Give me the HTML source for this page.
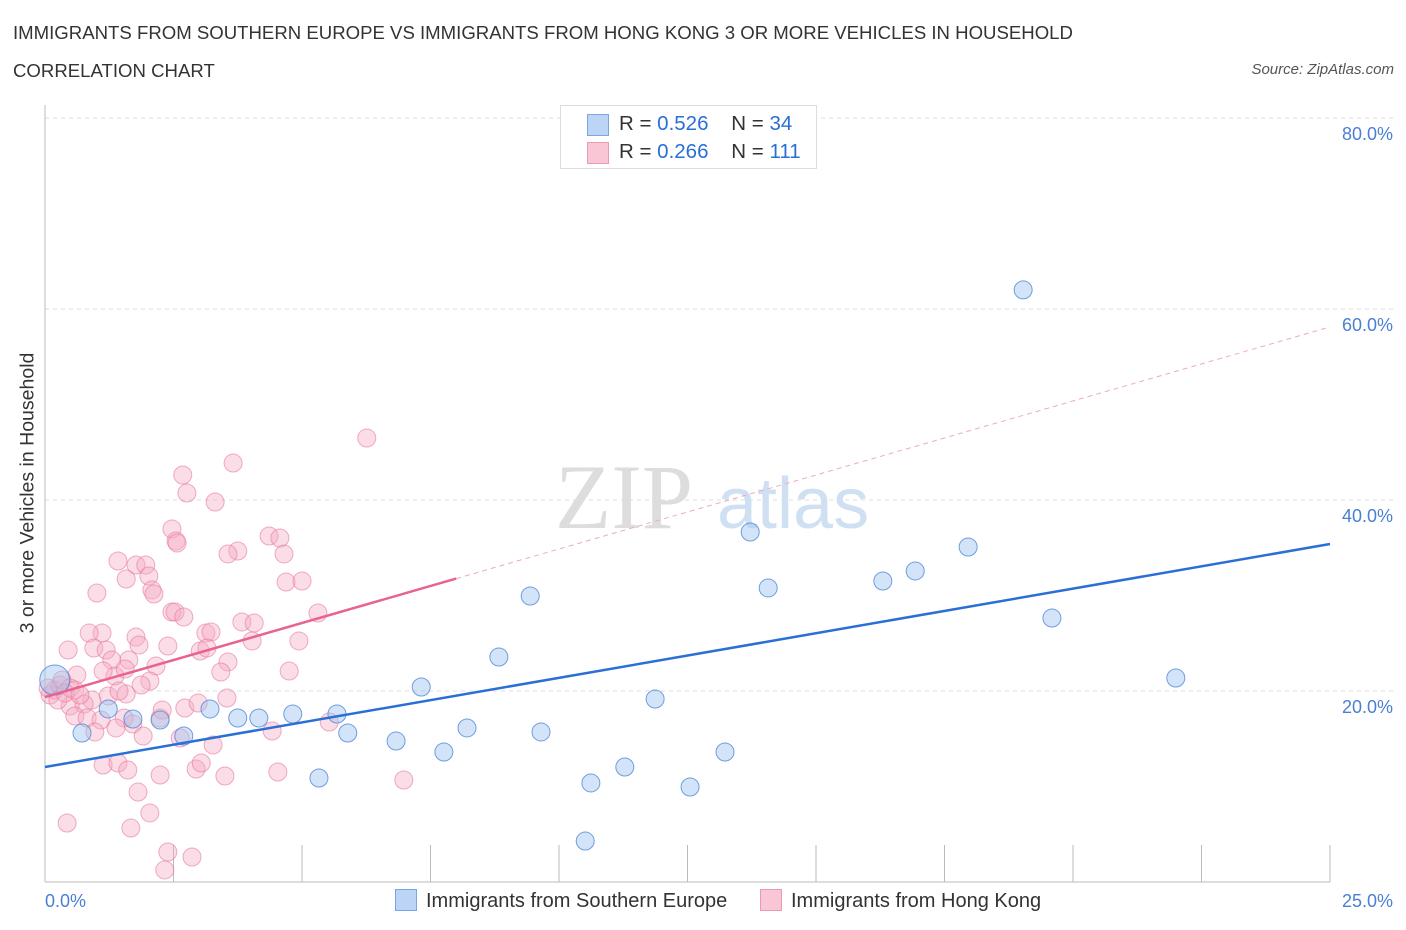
<!DOCTYPE html>
<html><head><meta charset="utf-8"><style>
body{margin:0;background:#fff;font-family:"Liberation Sans",sans-serif;}
#wrap{position:relative;width:1406px;height:930px;overflow:hidden;}
.t{position:absolute;white-space:nowrap;}
</style></head><body>
<div id="wrap">
<div class="t" style="left:13px;top:22px;font-size:18.6px;color:#333;">IMMIGRANTS FROM SOUTHERN EUROPE VS IMMIGRANTS FROM HONG KONG 3 OR MORE VEHICLES IN HOUSEHOLD</div>
<div class="t" style="left:13px;top:60px;font-size:18.6px;color:#333;">CORRELATION CHART</div>
<div class="t" style="right:12px;top:61px;font-size:15px;color:#555;font-style:italic;">Source: ZipAtlas.com</div>
<svg id="svg" width="1406" height="930" style="position:absolute;left:0;top:0"></svg>
</div>
<script>
const xTicks=[0,2.5,5,7.5,10,12.5,15,17.5,20,22.5,25];
const yTicks=[20,40,60,80];
const yTickLabels=["20.0%","40.0%","60.0%","80.0%"];
const blueX=[19.03,13.72,17.96,9.44,14.07,16.30,16.93,19.59,22.00,8.83,7.32,11.87,3.21,3.75,4.16,4.82,5.68,2.24,1.71,1.23,0.72,2.70,5.89,6.83,8.21,9.65,7.76,13.23,5.33,10.62,11.28,12.55,10.51,0.19];
const blueY=[62.0,36.65,35.08,29.95,30.79,31.52,32.57,27.64,21.36,23.56,20.42,19.16,18.12,17.17,17.17,17.59,17.59,16.96,17.07,18.12,15.60,15.29,15.60,14.76,16.13,15.71,13.61,13.61,10.89,10.37,12.04,9.95,4.29,21.15];
const pinkX=[6.26,3.66,2.68,2.76,3.31,2.47,2.55,2.57,4.36,4.57,3.75,3.56,1.42,1.77,1.96,4.65,2.02,1.58,2.08,2.12,4.69,5.00,1.01,2.47,2.53,2.70,5.31,3.83,4.07,1.11,0.86,3.13,3.23,1.77,1.83,4.94,2.39,4.03,0.95,1.19,3.02,3.15,0.45,1.63,1.30,3.56,1.36,1.56,2.16,3.42,4.75,0.62,1.13,2.04,1.87,1.58,1.23,1.44,0.91,0.49,0.76,2.24,2.72,2.98,3.54,0.58,0.82,1.09,1.54,1.71,2.28,1.38,0.97,1.91,2.63,3.27,4.42,5.53,1.13,1.42,1.61,2.24,2.94,3.04,3.50,4.53,6.98,1.81,2.04,0.43,1.67,2.39,2.86,2.33,0.10,0.19,0.29,0.06,0.33,0.49,0.58,0.25,0.39,0.68];
const pinkY=[46.49,43.87,42.62,40.73,39.79,36.96,35.71,35.50,36.23,36.02,34.66,34.35,33.61,33.19,33.19,34.35,32.04,31.73,30.58,30.16,31.41,31.52,30.26,28.27,28.27,27.75,28.17,27.23,27.12,26.07,26.07,26.07,26.18,25.65,24.82,25.24,24.71,25.24,24.50,24.29,24.19,24.50,24.29,23.25,23.25,23.04,21.57,22.30,22.62,21.99,22.09,21.68,22.09,21.05,20.63,19.69,19.48,20.00,19.06,18.43,18.64,17.17,18.22,18.74,19.27,17.38,17.17,16.96,17.17,16.54,18.01,16.13,15.71,15.29,15.08,14.35,15.81,16.75,12.25,12.46,11.73,11.20,11.83,12.46,11.10,11.52,10.68,9.42,7.23,6.18,5.65,3.14,2.62,1.26,19.58,20.10,20.63,20.31,21.15,20.31,20.10,19.06,19.79,19.58];
const blueTrend=[12.04,0.934];
const pinkTrend=[19.37,1.55];
const pinkSolidEnd=8;

const X0=45,X1=1330,Y0=882,Y80=118;
const sx=v=>X0+(v/25)*(X1-X0);
const sy=v=>Y0-(v/80)*(Y0-Y80);
const svg=document.getElementById('svg');
const NS='http://www.w3.org/2000/svg';
function mk(tag,at){const e=document.createElementNS(NS,tag);for(const k in at)e.setAttribute(k,at[k]);svg.appendChild(e);return e;}

yTicks.forEach((v,i)=>{
  const g=mk('line',{x1:X0,x2:1395,y1:sy(v),y2:sy(v),stroke:'#ddd','stroke-dasharray':'4,4'});
  
  
  const t=mk('text',{x:1393,y:sy(v)+22,'text-anchor':'end','font-size':18,fill:'#4a7fd4','font-family':'Liberation Sans, sans-serif'});
  t.textContent=yTickLabels[i];
  
  
});
let a=mk('line',{x1:X0,x2:X0,y1:105,y2:Y0,stroke:'#bbb'});


a=mk('line',{x1:X0,x2:X1,y1:Y0,y2:Y0,stroke:'#bbb'});


xTicks.forEach(v=>{
  const l=mk('line',{x1:sx(v),x2:sx(v),y1:845,y2:Y0,stroke:'#bbb'});
  
  
});
let w=mk('text',{x:555,y:528,'font-size':92,fill:'#ddd','font-family':'Liberation Serif, serif'});
w.textContent='ZIP';


w=mk('text',{x:717,y:528,'font-size':72,fill:'#cfe0f3','font-family':'Liberation Sans, sans-serif'});
w.textContent='atlas';


pinkX.forEach((v,i)=>{
  const c=mk('circle',{cx:sx(v),cy:sy(pinkY[i]),r:9,fill:'rgba(246,170,195,0.4)',stroke:'rgba(232,120,155,0.6)','stroke-width':1});
  
  
});
blueX.forEach((v,i)=>{
  const r=i===blueX.length-1?15:9;
  const c=mk('circle',{cx:sx(v),cy:sy(blueY[i]),r:r,fill:'rgba(160,196,240,0.45)',stroke:'rgba(70,130,215,0.75)','stroke-width':1});
  
  
});
let tl=mk('line',{x1:sx(0),y1:sy(blueTrend[0]),x2:sx(25),y2:sy(blueTrend[0]+blueTrend[1]*25),stroke:'#2a6fd6','stroke-width':2.5});


tl=mk('line',{x1:sx(0),y1:sy(pinkTrend[0]),x2:sx(pinkSolidEnd),y2:sy(pinkTrend[0]+pinkTrend[1]*pinkSolidEnd),stroke:'#e8638e','stroke-width':2.5});


tl=mk('line',{x1:sx(pinkSolidEnd),y1:sy(pinkTrend[0]+pinkTrend[1]*pinkSolidEnd),x2:sx(25),y2:sy(pinkTrend[0]+pinkTrend[1]*25),stroke:'#eeaac0','stroke-width':1,'stroke-dasharray':'5,4'});


</script>
<div class="t" style="left:28px;top:493px;font-size:19.5px;color:#333;transform:translate(-50%,-50%) rotate(-90deg);">3 or more Vehicles in Household</div>
<div class="t" style="left:45px;top:891px;font-size:18px;color:#4a7fd4;">0.0%</div>
<div class="t" style="right:13px;top:891px;font-size:18px;color:#4a7fd4;">25.0%</div>
<div style="position:absolute;left:560px;top:105px;width:255px;height:62px;border:1px solid #ddd;background:#fff;font-size:20.5px;color:#333;">
 <div style="position:absolute;left:26px;top:8px;width:20px;height:20px;background:#bcd4f5;border:1px solid #7aa6e6;"></div>
 <div class="t" style="left:58px;top:6px;">R = <span style="color:#2a6fd6">0.526</span>&nbsp;&nbsp;&nbsp; N = <span style="color:#2a6fd6">34</span></div>
 <div style="position:absolute;left:26px;top:36px;width:20px;height:20px;background:#f9c6d5;border:1px solid #ea9ab4;"></div>
 <div class="t" style="left:58px;top:34px;">R = <span style="color:#2a6fd6">0.266</span>&nbsp;&nbsp;&nbsp; N = <span style="color:#2a6fd6">111</span></div>
</div>
<div style="position:absolute;left:395px;top:889px;font-size:20px;color:#333;white-space:nowrap;">
 <span style="display:inline-block;width:20px;height:20px;background:#bcd4f5;border:1px solid #7aa6e6;vertical-align:-4px;margin-right:9px;"></span>Immigrants from Southern Europe</div>
<div style="position:absolute;left:760px;top:889px;font-size:20px;color:#333;white-space:nowrap;">
 <span style="display:inline-block;width:20px;height:20px;background:#f9c6d5;border:1px solid #ea9ab4;vertical-align:-4px;margin-right:9px;"></span>Immigrants from Hong Kong</div>
</body></html>
